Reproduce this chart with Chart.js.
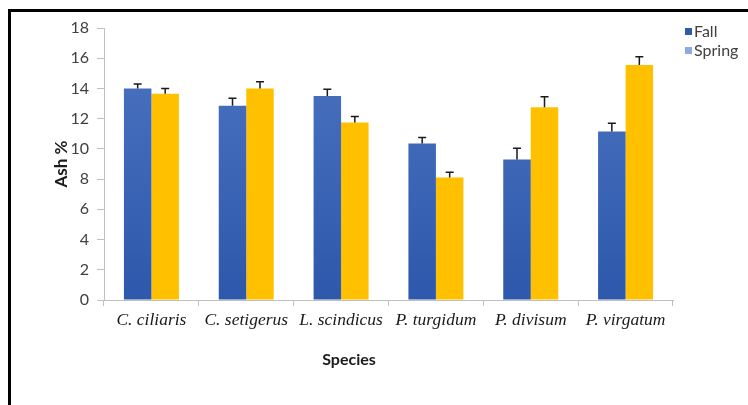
<!DOCTYPE html>
<html><head><meta charset="utf-8">
<script src="https://cdn.jsdelivr.net/npm/chart.js@4.4.0/dist/chart.umd.min.js"></script>
<style>
body{margin:0;background:#fff;}
#wrap{position:relative;width:748px;height:405px;overflow:hidden;}
#c{position:absolute;left:0;top:0;}
#frame{position:absolute;left:8px;top:9px;width:760px;height:420px;border-top:3px solid #000;border-left:3px solid #000;pointer-events:none;}
</style>
</head><body>
<div id="wrap"><canvas id="c" width="748" height="405"></canvas><div id="frame"></div></div>
<script>
const categories = ['C. ciliaris','C. setigerus','L. scindicus','P. turgidum','P. divisum','P. virgatum'];
const seriesNames = ['Fall','Spring'];
const fallValues = [14.0, 12.85, 13.5, 10.35, 9.3, 11.15];
const springValues = [13.65, 14.0, 11.75, 8.1, 12.75, 15.55];
const fallErrors = [0.3, 0.5, 0.45, 0.4, 0.75, 0.55];
const springErrors = [0.35, 0.45, 0.4, 0.35, 0.7, 0.55];
const yTickValues = [0, 2, 4, 6, 8, 10, 12, 14, 16, 18];
const legendSwatches = ['#2f5aa8', '#8faadc'];

function blueGradient(ctx) {
  const chart = ctx.chart;
  const a = chart.chartArea;
  if (!a) return '#4472c4';
  const g = chart.ctx.createLinearGradient(0, a.top, 0, a.bottom);
  g.addColorStop(0, '#4d74c2');
  g.addColorStop(1, '#2d58ab');
  return g;
}

const errorBarPlugin = {
  id: 'errorBars',
  afterDatasetsDraw(chart) {
    const c = chart.ctx;
    const y = chart.scales.y;
    const errs = [fallErrors, springErrors];
    chart.data.datasets.forEach((ds, di) => {
      const meta = chart.getDatasetMeta(di);
      meta.data.forEach((bar, i) => {
        const top = y.getPixelForValue(ds.data[i] + errs[di][i]);
        c.save();
        c.strokeStyle = '#1a1a1a';
        c.lineWidth = 1.5;
        c.beginPath();
        c.moveTo(bar.x, bar.y);
        c.lineTo(bar.x, top);
        c.moveTo(bar.x - 4, top);
        c.lineTo(bar.x + 4, top);
        c.stroke();
        c.restore();
      });
    });
  }
};

const customLegend = {
  id: 'customLegend',
  afterDraw(chart) {
    const c = chart.ctx;
    const a = chart.chartArea;
    c.save();
    c.font = '16px Lato';
    c.textBaseline = 'middle';
    seriesNames.forEach((name, i) => {
      const yy = a.top + 3.5 + i * 19;
      c.fillStyle = legendSwatches[i];
      c.fillRect(a.right + 12, yy - 3.5, 7, 7);
      c.fillStyle = '#404040';
      c.fillText(name, a.right + 21, yy);
    });
    c.restore();
  }
};

const xTitlePlugin = {
  id: 'xTitle',
  afterDraw(chart) {
    const c = chart.ctx;
    const a = chart.chartArea;
    c.save();
    c.font = 'bold 16px Lato';
    c.fillStyle = '#1a1a1a';
    c.textAlign = 'center';
    c.textBaseline = 'middle';
    c.fillText('Species', a.left + 245, a.bottom + 60);
    c.restore();
  }
};

new Chart(document.getElementById('c'), {
  type: 'bar',
  data: {
    labels: categories,
    datasets: [
      { label: seriesNames[0], data: fallValues, backgroundColor: blueGradient, borderWidth: 0 },
      { label: seriesNames[1], data: springValues, backgroundColor: '#ffc000', borderWidth: 0 }
    ]
  },
  options: {
    responsive: false,
    animation: false,
    layout: { padding: { top: 28, right: 75, bottom: 0, left: 0 } },
    plugins: { legend: { display: false }, tooltip: { enabled: false } },
    datasets: { bar: { categoryPercentage: 0.58, barPercentage: 1.0 } },
    scales: {
      x: {
        afterFit(s) { s.height = 105; },
        grid: { display: true, drawOnChartArea: false, offset: true, color: '#bfbfbf', tickLength: 6, lineWidth: 1 },
        border: { color: '#bfbfbf', width: 1 },
        ticks: { color: '#1a1a1a', padding: 4, maxRotation: 0, autoSkip: false,
          font: { family: 'Liberation Serif', style: 'italic', size: 17.5 } }
      },
      y: {
        min: 0, max: 18,
        afterFit(s) { s.width = 104; },
        afterBuildTicks(s) { s.ticks = yTickValues.map(v => ({ value: v })); },
        grid: { display: true, drawOnChartArea: false, color: '#bfbfbf', tickLength: 7 },
        border: { color: '#bfbfbf', width: 1 },
        ticks: { color: '#404040', padding: 8, font: { family: 'Lato', size: 16 } },
        title: { display: true, text: 'Ash %', color: '#1a1a1a', padding: { top: 51, bottom: 0 },
          font: { family: 'Lato', weight: 'bold', size: 17 } }
      }
    }
  },
  plugins: [errorBarPlugin, customLegend, xTitlePlugin]
});
</script>
</body></html>
